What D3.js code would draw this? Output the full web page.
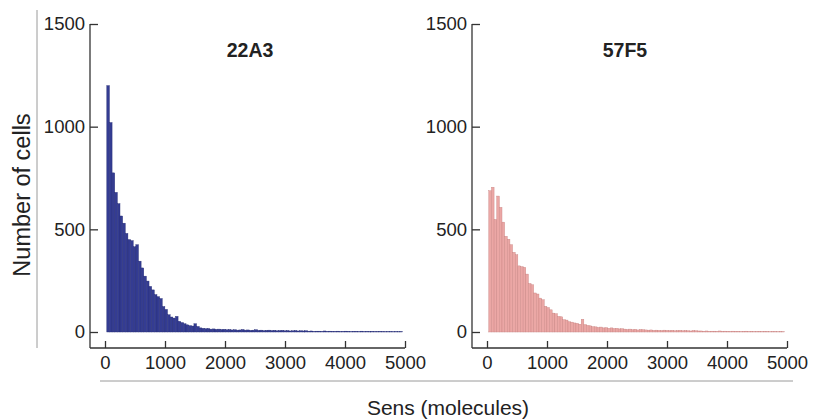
<!DOCTYPE html>
<html>
<head>
<meta charset="utf-8">
<script src="https://cdn.jsdelivr.net/npm/d3@7"></script>
<style>
  body { margin: 0; background: #fff; }
  text { font-family: "Liberation Sans", Arial, Helvetica, sans-serif; fill: #222; }
</style>
</head>
<body>
<div id="chart"></div>
<script>
const width = 815
const height = 420

// histogram bins (molecules): first bin starts at binStart, each binWidth wide
const binStart = 30
const binWidth = 44

const titles = ["22A3", "57F5"]
const xTicks = [0, 1000, 2000, 3000, 4000, 5000]
const yTicks = [0, 500, 1000, 1500]

const counts22A3 = [
    1200, 1020, 775, 680, 625, 565, 530, 480, 450, 445,
    415, 425, 345, 312, 272, 248, 222, 205, 182, 172,
    163, 124, 110, 84, 73, 68, 76, 52, 46, 40,
    35, 31, 29, 40, 27, 20,
    18, 16, 17, 14, 15, 13, 14, 12, 13,
    11, 12, 10, 11, 9, 10, 12, 9, 10, 8, 9, 11, 8, 9, 7, 8,
    9, 7, 8, 6, 7, 8, 6, 7, 5, 6, 7, 5, 6, 5, 6,
    4, 5, 3, 4, 4, 3, 5, 3, 4, 3, 3, 4, 2, 3, 4, 3, 2, 3, 3, 2,
    4, 2, 3, 2, 3, 2, 2, 3, 2, 1, 2, 2, 1, 2, 1, 2
]

const counts57F5 = [
    688, 705, 548, 662, 607, 535, 466, 452, 425, 388,
    376, 322, 318, 315, 282, 236, 230, 190, 185, 165,
    157, 125, 119, 108, 92, 89, 76, 74, 60, 58,
    50, 48, 44, 42, 38, 62, 36, 32, 30, 26,
    25, 22, 24, 20, 21, 18,
    20, 17, 18, 15, 16, 14, 12, 14, 11, 13, 10, 12, 11, 10,
    9, 10, 8, 9, 8, 7, 9, 8, 7, 8, 6, 7, 8, 6, 7, 6, 5, 7, 6, 5,
    5, 4, 5, 3, 4, 4, 3, 5, 3, 4, 3, 2, 4, 3, 3, 2, 3, 4, 2, 3,
    2, 2, 3, 2, 3, 2, 1, 2, 2, 1, 2, 1
]

const panels = [
    { title: titles[0], counts: counts22A3, axisX: 90, x0: 105, fill: "#343c92", edge: "#232a73", titleX: 250 },
    { title: titles[1], counts: counts57F5, axisX: 472, x0: 487, fill: "#eba7a5", edge: "#c88381", titleX: 625 }
]

const yTop = 24
const yZero = 332
const xAxisY = 348

const svg = d3.select("#chart").append("svg").attr("width", width).attr("height", height)

// outer label lines
svg.append("line").attr("x1", 37).attr("x2", 37).attr("y1", 10).attr("y2", 348)
    .attr("stroke", "#9a9a9a").attr("stroke-width", 1)
svg.append("line").attr("x1", 100).attr("x2", 793).attr("y1", 381).attr("y2", 381)
    .attr("stroke", "#9a9a9a").attr("stroke-width", 1)

svg.append("text").attr("transform", "translate(30, 195) rotate(-90)")
    .attr("text-anchor", "middle").attr("font-size", 23.5).text("Number of cells")
svg.append("text").attr("x", 448).attr("y", 415)
    .attr("text-anchor", "middle").attr("font-size", 21).text("Sens (molecules)")

panels.forEach(p => {
    const g = svg.append("g")
    const x = d3.scaleLinear().domain([0, 5000]).range([p.x0, p.x0 + 300])
    const y = d3.scaleLinear().domain([0, 1500]).range([yZero, yTop])

    const data = p.counts.map((c, i) => ({ lo: binStart + i * binWidth, hi: binStart + (i + 1) * binWidth, n: c }))

    g.append("g").selectAll("rect").data(data).enter().append("rect")
        .attr("x", d => x(d.lo))
        .attr("y", d => y(d.n))
        .attr("width", d => x(d.hi) - x(d.lo))
        .attr("height", d => y(0) - y(d.n))
        .attr("fill", p.fill)
        .attr("stroke", p.edge)
        .attr("stroke-width", 0.4)

    const yAxisGroup = g.append("g").attr("transform", `translate(${p.axisX}, 0)`)
    yAxisGroup.call(d3.axisLeft(y).tickValues(yTicks).tickFormat(d3.format("d")).tickSize(-8).tickSizeOuter(0).tickPadding(5))
    yAxisGroup.select(".domain").remove()
    yAxisGroup.append("line").attr("x1", 0).attr("x2", 0).attr("y1", y(1500)).attr("y2", xAxisY)

    const xAxisGroup = g.append("g").attr("transform", `translate(0, ${xAxisY})`)
    xAxisGroup.call(d3.axisBottom(x).tickValues(xTicks).tickFormat(d3.format("d")).tickSize(-7).tickSizeOuter(0).tickPadding(8))
    xAxisGroup.select(".domain").remove()
    xAxisGroup.append("line").attr("x1", p.axisX).attr("x2", x(5000)).attr("y1", 0).attr("y2", 0)

    g.selectAll(".tick line").attr("stroke", "#333").attr("stroke-width", 1.3)
    g.selectAll("g > line").attr("stroke", "#333").attr("stroke-width", 1.3)
    g.selectAll(".tick text").attr("font-size", 18.5).attr("fill", "#222")
        .style("font-family", "'Liberation Sans', Arial, sans-serif")

    g.append("text").attr("x", p.titleX).attr("y", 57).attr("text-anchor", "middle")
        .attr("font-size", 19.5).attr("font-weight", "bold").text(p.title)
})
</script>
</body>
</html>
